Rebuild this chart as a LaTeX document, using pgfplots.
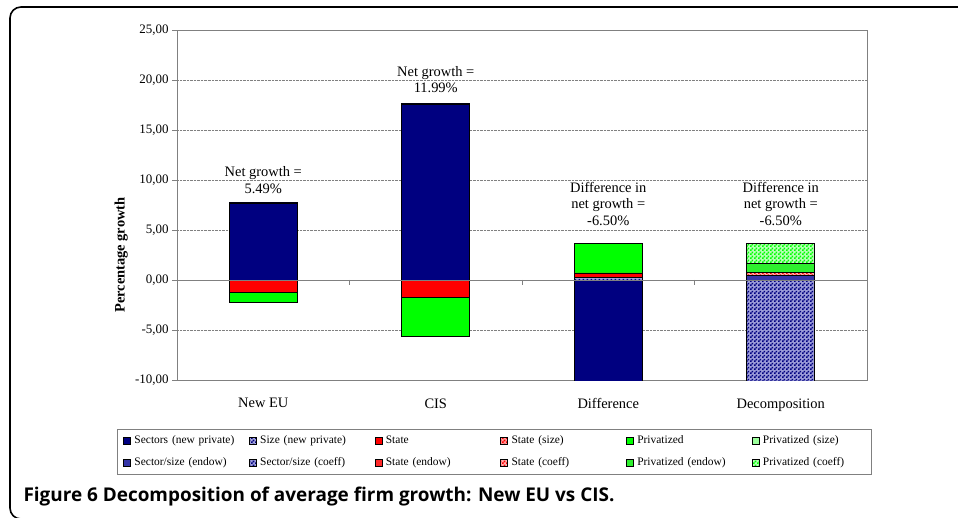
\documentclass[border=0pt]{standalone}
\usepackage{pgfplots}
\usepackage{pgfplotstable}
\pgfplotsset{compat=1.18}
\usepackage{fontspec}
\setmainfont{Liberation Serif}
\newfontfamily\capfont{Open Sans}
\usetikzlibrary{patterns}
\definecolor{navyc}{HTML}{000080}
\definecolor{redc}{HTML}{FF0000}
\definecolor{greenc}{HTML}{00FF00}
\definecolor{sizec}{HTML}{A8A8DC}
\definecolor{endowblue}{HTML}{3636A8}
\definecolor{stsize}{HTML}{FF9C9C}
\definecolor{stendow}{HTML}{FF2A2A}
\definecolor{prsize}{HTML}{9CFF9C}
\definecolor{prendow}{HTML}{2EF02E}
\definecolor{gridc}{HTML}{808080}
\definecolor{sscobg}{HTML}{9A9AD8}
\definecolor{stcobg}{HTML}{FFB0B0}
\definecolor{prcobg}{HTML}{B8FFB8}

\pgfdeclarepatternformonly{finecheck}{\pgfqpoint{0pt}{0pt}}{\pgfqpoint{3.6pt}{3.6pt}}{\pgfqpoint{3.6pt}{3.6pt}}{%
  \pgfpathrectangle{\pgfqpoint{0pt}{0pt}}{\pgfqpoint{1.8pt}{1.8pt}}%
  \pgfpathrectangle{\pgfqpoint{1.8pt}{1.8pt}}{\pgfqpoint{1.8pt}{1.8pt}}%
  \pgfusepath{fill}}

\pgfplotstableread{
x sect size state stsize priv prsize ssend ssco stend stco prend prco
0 7.70 0.05 -1.23 0 -0.97 0 0 0 0 0 0 0
1 17.60 0.06 -1.77 0 -3.90 0 0 0 0 0 0 0
2 -10.15 0.25 0.45 0 2.97 0 0 0 0 0 0 0
3 0 0 0 0 0 0 0.42 -10.15 0.05 0.30 0.85 2.05
}\data

\begin{document}
\begin{tikzpicture}
\useasboundingbox (0,0) rectangle (958bp,518bp);
\draw[line width=1.6bp, rounded corners=11bp] (975bp,511bp) -- (10bp,511bp) -- (10bp,-1bp) -- (975bp,-1bp);
\begin{axis}[
  at={(177bp,138bp)}, anchor=south west,
  width=690bp, height=350bp, scale only axis,
  xmin=-0.5, xmax=3.5, ymin=-10, ymax=25,
  ybar stacked, stack negative=separate,
  bar width=68bp,
  axis line style={gridc, line width=0.8bp},
  xtick={0,1,2,3}, xticklabels={New EU, CIS, Difference, Decomposition},
  x tick style={draw=none},
  xticklabel style={font=\fontsize{14.5}{16}\selectfont, yshift=-10bp},
  ytick={-10,-5,0,5,10,15,20,25},
  yticklabels={{-10,00},{-5,00},{0,00},{5,00},{10,00},{15,00},{20,00},{25,00}},
  yticklabel style={font=\fontsize{13}{15}\selectfont},
  ytick pos=left, tick align=outside, major tick length=5bp,
  y tick style={gridc, line width=0.8bp},
  ymajorgrids, grid style={gridc, densely dotted, line width=0.6bp},
  ylabel={Percentage growth},
  ylabel style={at={(axis description cs:-0.081,0.357)}, anchor=center, font=\fontsize{14.5}{16}\selectfont\bfseries},
  legend columns=6,
  legend cell align=left,
  legend style={at={(axis description cs:-0.087,-0.14)}, anchor=north west, draw=gridc, line width=0.8bp,
    font=\fontsize{11.5}{13}\selectfont, inner xsep=6bp, inner ysep=4.5bp, row sep=7bp,
    /tikz/every odd column/.append style={column sep=2bp},
    /tikz/every even column/.append style={column sep=12.1bp},
    nodes={text width=101bp, align=left, inner xsep=1.5bp, text height=8bp, text depth=2.5bp}},
  legend image code/.code={\draw[#1, draw=black, line width=0.6bp] (0bp,-3.5bp) rectangle (7bp,3.5bp);},
  every axis plot/.append style={draw=black, line width=0.8bp},
]
\draw[gridc, line width=0.8bp] (axis cs:-0.5,0) -- (axis cs:3.5,0);
\draw[gridc, line width=0.8bp] (axis cs:0.5,0) -- ([yshift=-5bp]axis cs:0.5,0);
\draw[gridc, line width=0.8bp] (axis cs:1.5,0) -- ([yshift=-5bp]axis cs:1.5,0);
\draw[gridc, line width=0.8bp] (axis cs:2.5,0) -- ([yshift=-5bp]axis cs:2.5,0);
\addplot[fill=navyc] table[x=x, y=sect]{\data};
\addlegendentry{Sectors (new private)}
\addplot[fill=sizec, postaction={pattern=finecheck, pattern color=navyc}] table[x=x, y=size]{\data};
\addlegendentry{Size (new private)}
\addplot[fill=redc] table[x=x, y=state]{\data};
\addlegendentry{State}
\addplot[fill=stsize, postaction={pattern=finecheck, pattern color=redc}] table[x=x, y=stsize]{\data};
\addlegendentry{State (size)}
\addplot[fill=greenc] table[x=x, y=priv]{\data};
\addlegendentry{Privatized}
\addplot[fill=prsize] table[x=x, y=prsize]{\data};
\addlegendentry{Privatized (size)}
\addplot[fill=endowblue] table[x=x, y=ssend]{\data};
\addlegendentry{Sector/size (endow)}
\addplot[fill=sscobg, postaction={pattern=finecheck, pattern color=navyc}] table[x=x, y=ssco]{\data};
\addlegendentry{Sector/size (coeff)}
\addplot[fill=stendow] table[x=x, y=stend]{\data};
\addlegendentry{State (endow)}
\addplot[fill=stcobg, postaction={pattern=finecheck, pattern color=redc}] table[x=x, y=stco]{\data};
\addlegendentry{State (coeff)}
\addplot[fill=prendow] table[x=x, y=prend]{\data};
\addlegendentry{Privatized (endow)}
\addplot[fill=prcobg, postaction={pattern=finecheck, pattern color=greenc}] table[x=x, y=prco]{\data};
\addlegendentry{Privatized (coeff)}
\node[align=center, font=\fontsize{14.5}{16.5}\selectfont] at (axis cs:0,10.0) {Net growth =\\5.49\%};
\node[align=center, font=\fontsize{14.5}{16.5}\selectfont] at (axis cs:1,20.05) {Net growth =\\11.99\%};
\node[align=center, font=\fontsize{14.5}{16.5}\selectfont] at (axis cs:2,7.6) {Difference in\\net growth =\\-6.50\%};
\node[align=center, font=\fontsize{14.5}{16.5}\selectfont] at (axis cs:3,7.6) {Difference in\\net growth =\\-6.50\%};
\end{axis}
\node[anchor=base west, font=\capfont\bfseries\fontsize{19}{21}\selectfont] at (20bp,17bp) {Figure 6 Decomposition of average firm growth: New EU vs CIS.};
\end{tikzpicture}
\end{document}
